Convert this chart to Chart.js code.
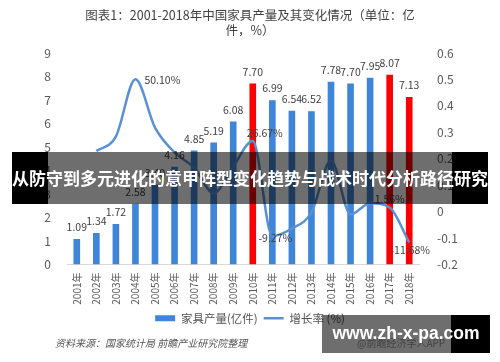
<!DOCTYPE html>
<html>
<head>
<meta charset="utf-8">
<script src="https://cdn.jsdelivr.net/npm/chart.js@4"></script>
<style>
  html, body { margin: 0; padding: 0; background: #fff; }
  #wrap { position: relative; width: 500px; height: 362px; overflow: hidden; font-family: "Noto Sans CJK SC", sans-serif; }
  #chart { position: absolute; left: 0; top: 0; }
  #title { position: absolute; left: 0; top: 7px; width: 500px; text-align: center; font-size: 12.5px; line-height: 15px; color: #404040; }
  #source { position: absolute; left: 55px; top: 335px; font-size: 10px; font-style: italic; color: #555; }
  #appmark { position: absolute; left: 357px; top: 335px; font-size: 10px; color: #999; }
  .blk { position: absolute; background: #000; }
  .dim { position: absolute; background: rgba(0,0,0,0.57); }
  #bannerText { position: absolute; left: 0; top: 152px; width: 500px; height: 52px; line-height: 52px; text-align: center; color: #fff; font-weight: bold; font-size: 17px; white-space: nowrap; }
  #siteText { position: absolute; left: 322px; top: 315px; width: 168px; height: 36px; line-height: 36px; text-align: center; color: #fff; font-weight: bold; font-size: 17.5px; font-family: "Liberation Sans", Arial, sans-serif; }
</style>
</head>
<body>
<div id="wrap">
  <canvas id="chart" width="500" height="362"></canvas>
  <div id="title">图表1：2001-2018年中国家具产量及其变化情况（单位：亿<br>件，%）</div>
  <div id="source">资料来源：国家统计局 前瞻产业研究院整理</div>
  <div id="appmark">@前瞻经济学人APP</div>

  <div class="blk" style="left:12px;top:152px;width:36px;height:52px"></div>
  <div class="dim" style="left:48px;top:152px;width:404px;height:52px"></div>
  <div class="blk" style="left:452px;top:152px;width:36px;height:52px"></div>
  <div id="bannerText">从防守到多元进化的意甲阵型变化趋势与战术时代分析路径研究</div>

  <div class="dim" style="left:322px;top:315px;width:129px;height:38px"></div>
  <div class="blk" style="left:451px;top:315px;width:39px;height:38px"></div>
  <div id="siteText">www.zh-x-pa.com</div>
</div>

<script>
// data
const years = ['2001年', '2002年', '2003年', '2004年', '2005年', '2006年', '2007年', '2008年', '2009年',
  '2010年', '2011年', '2012年', '2013年', '2014年', '2015年', '2016年', '2017年', '2018年'];
const output = [1.09, 1.34, 1.72, 2.58, 3.40, 4.16, 4.85, 5.19, 6.08,
  7.70, 6.99, 6.54, 6.52, 7.78, 7.70, 7.95, 8.07, 7.13];
const growth = [null, 0.229, 0.284, 0.501, 0.318, 0.224, 0.166, 0.070, 0.171,
  0.2667, -0.0927, -0.064, -0.003, 0.193, -0.010, 0.032, 0.0156, -0.1168];
const redYears = ['2010年', '2017年', '2018年'];
const labelledGrowth = ['2004年', '2010年', '2011年', '2017年', '2018年'];
const leftTicks = [0, 1, 2, 3, 4, 5, 6, 7, 8, 9];
const rightTicks = [-0.2, -0.1, 0, 0.1, 0.2, 0.3, 0.4, 0.5, 0.6];

const BLUE = '#3f86d8';
const RED = '#ff0000';
const LINE = '#5b90d4';
const FONT = '"Noto Sans CJK SC", sans-serif';

// where each growth label sits relative to its point
const growthLabelPos = {
  '2004年': { dx: 9, dy: 1, align: 'left' },
  '2010年': { dx: 12, dy: -8, align: 'center' },
  '2011年': { dx: 3, dy: 2, align: 'center' },
  '2017年': { dx: 0, dy: -8, align: 'center' },
  '2018年': { dx: 1, dy: 8, align: 'center' }
};

const valueLabels = {
  id: 'valueLabels',
  afterDatasetsDraw(chart) {
    const ctx = chart.ctx;
    ctx.save();
    ctx.font = '10.5px ' + FONT;
    ctx.fillStyle = '#404040';
    ctx.textBaseline = 'middle';

    ctx.textAlign = 'center';
    chart.getDatasetMeta(0).data.forEach((el, i) => {
      ctx.fillText(output[i].toFixed(2), el.x, el.y - 12);
    });

    chart.getDatasetMeta(1).data.forEach((pt, i) => {
      if (!labelledGrowth.includes(years[i])) return;
      const p = growthLabelPos[years[i]];
      ctx.textAlign = p.align;
      ctx.fillText((growth[i] * 100).toFixed(2) + '%', pt.x + p.dx, pt.y + p.dy);
    });
    ctx.restore();
  }
};

new Chart(document.getElementById('chart'), {
  type: 'bar',
  data: {
    labels: years,
    datasets: [
      {
        label: '家具产量(亿件)',
        data: output,
        backgroundColor: years.map(y => redYears.includes(y) ? RED : BLUE),
        barPercentage: 0.34,
        categoryPercentage: 1,
        yAxisID: 'y',
        order: 1
      },
      {
        type: 'line',
        label: '增长率 (%)',
        data: growth,
        borderColor: LINE,
        backgroundColor: LINE,
        borderWidth: 2.5,
        pointRadius: 0,
        cubicInterpolationMode: 'monotone',
        spanGaps: false,
        yAxisID: 'y1',
        order: 0
      }
    ]
  },
  options: {
    responsive: false,
    animation: false,
    layout: { padding: { top: 53, left: 0, right: 0, bottom: 28 } },
    plugins: {
      title: { display: false },
      tooltip: { enabled: false },
      legend: {
        position: 'bottom',
        labels: {
          usePointStyle: true,
          pointStyleWidth: 20,
          boxHeight: 6,
          padding: 6,
          color: '#555',
          font: { family: FONT, size: 11.5 },
          sort: (a, b) => a.datasetIndex - b.datasetIndex,
          generateLabels(chart) {
            const items = Chart.defaults.plugins.legend.labels.generateLabels(chart);
            items.forEach(it => {
              if (it.datasetIndex === 0) {
                it.pointStyle = 'rect';
                it.fillStyle = BLUE;
                it.strokeStyle = BLUE;
                it.lineWidth = 0;
              } else {
                it.pointStyle = 'line';
                it.strokeStyle = LINE;
                it.lineWidth = 2.5;
              }
            });
            return items;
          }
        }
      }
    },
    scales: {
      x: {
        grid: { display: false, drawTicks: false },
        border: { display: true, color: '#d9d9d9' },
        ticks: {
          color: '#595959',
          font: { family: FONT, size: 10 },
          minRotation: 90,
          maxRotation: 90,
          padding: 8
        },
        afterFit(scale) { scale.height = 42; }
      },
      y: {
        position: 'left',
        min: leftTicks[0],
        max: leftTicks[leftTicks.length - 1],
        grid: { display: false },
        border: { display: false },
        ticks: {
          stepSize: 1,
          color: '#595959',
          font: { family: FONT, size: 12 },
          padding: 8
        },
        afterFit(scale) { scale.width = 67; }
      },
      y1: {
        position: 'right',
        min: rightTicks[0],
        max: rightTicks[rightTicks.length - 1],
        grid: { display: false },
        border: { display: false },
        ticks: {
          stepSize: 0.1,
          color: '#595959',
          font: { family: FONT, size: 12 },
          padding: 10,
          callback: v => String(Number(v.toFixed(1)))
        },
        afterFit(scale) { scale.width = 81; }
      }
    }
  },
  plugins: [valueLabels]
});
</script>
</body>
</html>
